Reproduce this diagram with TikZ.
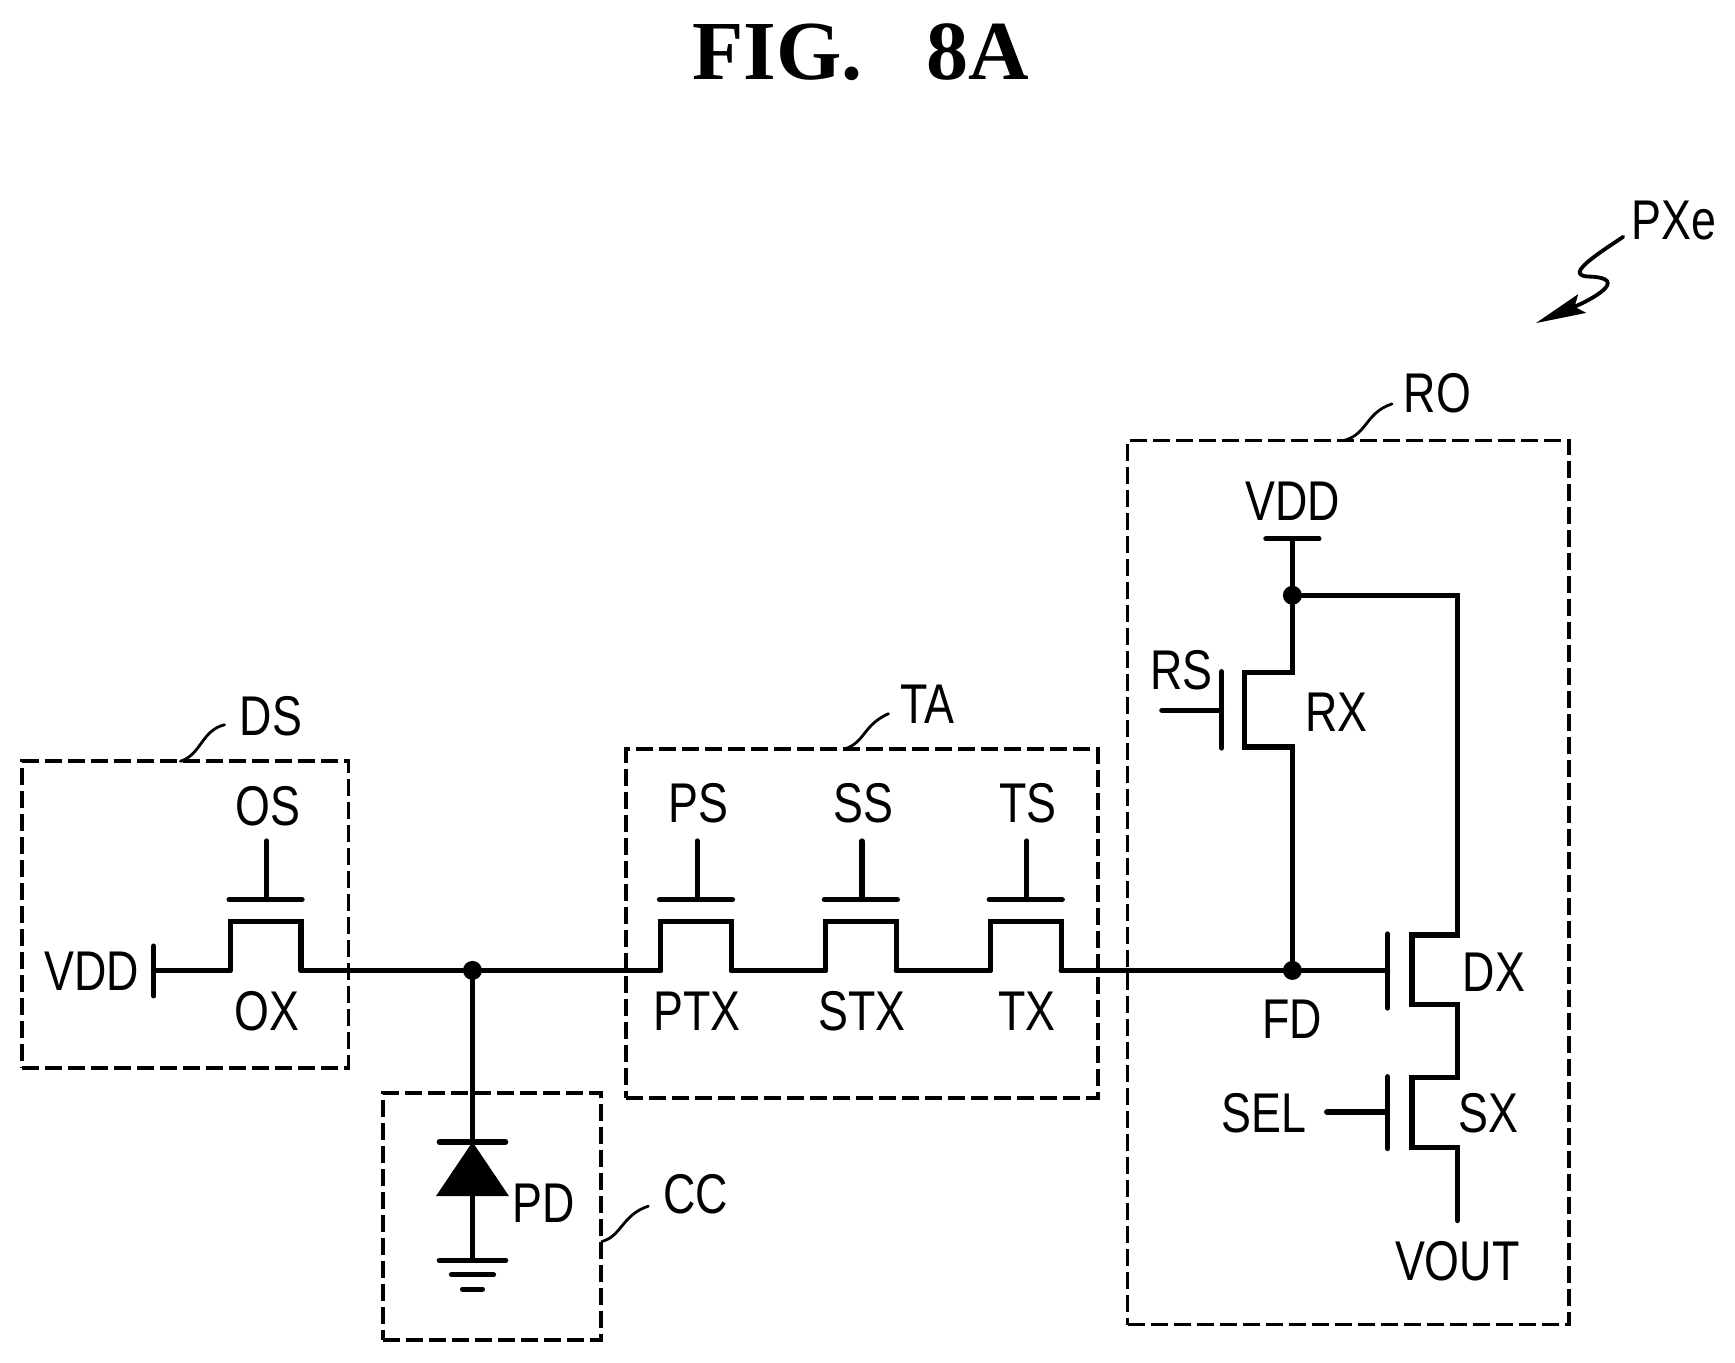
\documentclass[tikz,border=0pt]{standalone}
\usepackage{fontspec}
\setmainfont[FakeStretch=0.8]{Liberation Sans}
\newfontfamily\titlefont{Liberation Serif}
\usetikzlibrary{calc,fit,positioning,arrows.meta}
\tikzset{
  wire/.style={line width=2.6pt,line cap=round},
  groupbox/.style={draw,line width=1.9pt,dash pattern=on 8.5pt off 3pt,inner sep=0pt},
  leader/.style={line width=1.4pt,line cap=round},
  lbl/.style={inner sep=0pt,font=\fontsize{28}{30}\selectfont},
  junction/.style={circle,fill=black,inner sep=0pt,minimum size=9.5pt}
}
\begin{document}
\begin{tikzpicture}[x=0.5533pt,y=-0.5533pt]
      \useasboundingbox (0,0) rectangle (1568,1231);
      \node[inner sep=0pt,font=\titlefont\bfseries\fontsize{42}{44}\selectfont] (title) at (778,47.5) {FIG.\hspace{32pt}8A};

      % dashed groups
      \node[groupbox,fit={(20,688) (315,965)}] (DSbox) {};
      \node[groupbox,fit={(346,988) (543,1211)}] (CCbox) {};
      \node[groupbox,fit={(566,677) (992,992)}] (TAbox) {};
      \node[groupbox,fit={(1019,398) (1418,1197)}] (RObox) {};

      \node[lbl] (DS) at (245,647) {DS};
      \node[lbl] (CC) at (629,1079) {CC};
      \node[lbl] (TA) at (838,636) {TA};
      \node[lbl] (RO) at (1299,355) {RO};
      \node[lbl] (PXe) at (1513,199) {PXe};
      \coordinate (DSa) at (163,688);
      \coordinate (DSb) at (203,655);
      \coordinate (CCa) at (544,1122);
      \coordinate (CCb) at (586,1090);
      \coordinate (TAa) at (763,677);
      \coordinate (TAb) at (803,645);
      \coordinate (ROa) at (1215,398);
      \coordinate (ROb) at (1258,365);
      \draw[leader] (DSa) .. controls (182,682) and (182,660) .. (DSb);
      \draw[leader] (CCa) .. controls (562,1117) and (562,1098) .. (CCb);
      \draw[leader] (TAa) .. controls (782,671) and (780,655) .. (TAb);
      \draw[leader] (ROa) .. controls (1236,392) and (1234,373) .. (ROb);

      \coordinate (PXa) at (1467,214);
      \coordinate (PXb) at (1388,292);
      \draw[leader,line width=1.9pt,-{Stealth[length=25pt,width=10pt,inset=4pt]}] (PXa)
        .. controls (1440,232) and (1412,250) .. (1438,250)
        .. controls (1472,252) and (1440,270) .. (PXb);

      % top row of switches
      \foreach \nm/\sig/\x/\ty in {OX/OS/240/729, PTX/PS/629/726, STX/SS/778/726, TX/TS/927/726}{
        \coordinate (\nm-a) at (\x-32,877);
        \coordinate (\nm-b) at (\x+32,877);
        \coordinate (\nm-gl) at (\x-33,813);
        \coordinate (\nm-gr) at (\x+33,813);
        \coordinate (\nm-g) at (\x+1,813);
        \coordinate (\nm-s) at (\x+1,760);
        \draw[wire] (\nm-a) -- ++(0,-44) -| (\nm-b);
        \draw[wire] (\nm-gl) -- (\nm-gr);
        \draw[wire] (\nm-s) -- (\nm-g);
        \node[lbl] (\sig) at (\x+2,\ty) {\sig};
        \node[lbl] (\nm) at (\x+1,914) {\nm};
      }

      % left supply
      \coordinate (VDDa) at (139,855);
      \coordinate (VDDb) at (139,900);
      \coordinate (VDDc) at (139,877);
      \draw[wire] (VDDa) -- (VDDb);
      \node[lbl] (VDDl) at (83,878) {VDD};

      \node[junction] (n1) at (427,877) {};
      \node[junction] (FDn) at (1168,877) {};
      \draw[wire] (VDDc) -- (OX-a);
      \draw[wire] (OX-b) -- (n1) -- (PTX-a);
      \draw[wire] (PTX-b) -- (STX-a);
      \draw[wire] (STX-b) -- (TX-a);
      \draw[wire] (TX-b) -- (FDn);

      % photodiode
      \coordinate (PDc) at (427,1032);
      \coordinate (PDt) at (427,1080);
      \coordinate (GND) at (427,1139);
      \draw[wire] (n1) -- (PDc);
      \draw[wire] (397,1032) -- (457,1032);
      \fill (PDc) -- (460,1081) -- (394,1081) -- cycle;
      \draw[wire] (PDt) -- (GND);
      \draw[wire] (397,1139) -- (457,1139);
      \draw[wire] (408,1152) -- (446,1152);
      \draw[wire] (418,1165) -- (436,1165);
      \node[lbl] (PD) at (491,1087) {PD};

      % read out
      \node[lbl] (VDDr) at (1168,453) {VDD};
      \coordinate (VDDt) at (1168,487);
      \node[junction] (n2) at (1168,538) {};
      \draw[wire] (1144,487) -- (1192,487);
      \draw[wire] (VDDt) -- (n2) -- (1168,608) -- (1125,608) -- (1125,675) -- (1168,675) -- (FDn);
      \draw[wire] (1104,607) -- (1104,676);
      \coordinate (RSa) at (1050,642);
      \coordinate (RSb) at (1104,642);
      \draw[wire] (RSa) -- (RSb);
      \node[lbl] (RS) at (1068,606) {RS};
      \node[lbl] (RX) at (1208,644) {RX};

      \coordinate (DXg) at (1254,877);
      \draw[wire] (FDn) -- (DXg);
      \draw[wire] (1254,844) -- (1254,911);
      \draw[wire] (1254,973) -- (1254,1038);
      \coordinate (SELa) at (1199,1005);
      \coordinate (SELb) at (1254,1005);
      \coordinate (VOUTa) at (1317,1103);
      \draw[wire] (SELa) -- (SELb);
      \draw[wire] (n2) -- (1317,538) -- (1317,845) -- (1276,845) -- (1276,908) -- (1317,908)
        -- (1317,974) -- (1276,974) -- (1276,1037) -- (1317,1037) -- (VOUTa);
      \node[lbl] (FD) at (1168,921) {FD};
      \node[lbl] (DX) at (1350,879) {DX};
      \node[lbl] (SX) at (1345,1006) {SX};
      \node[lbl] (SEL) at (1142,1006) {SEL};
      \node[lbl] (VOUT) at (1317,1140) {VOUT};
    \end{tikzpicture}
\end{document}
